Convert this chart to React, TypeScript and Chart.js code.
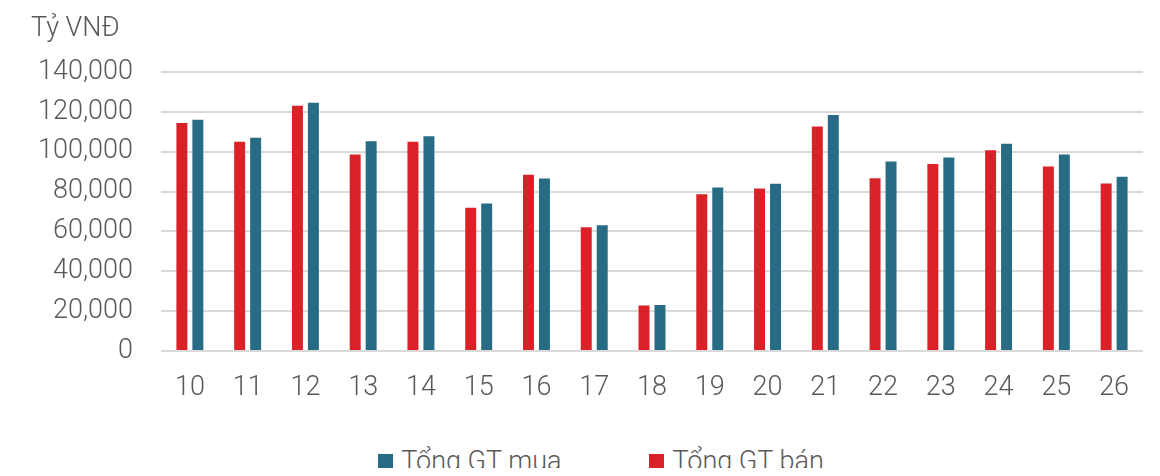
import React, { useEffect, useRef } from "react";
import { Chart, registerables } from "chart.js";

Chart.register(...registerables);

const categories = ["10", "11", "12", "13", "14", "15", "16", "17", "18", "19", "20", "21", "22", "23", "24", "25", "26"];
const sellValues = [114900, 105500, 123600, 99100, 105500, 72400, 88900, 62600, 23300, 79200, 82100, 113100, 87200, 94300, 101200, 93100, 84600];
const buyValues = [116600, 107500, 125100, 105700, 108200, 74500, 87100, 63600, 23600, 82600, 84400, 118900, 95600, 97600, 104500, 99100, 87900];
const sellLabel = "Tổng GT bán";
const buyLabel = "Tổng GT mua";
const unitLabel = "Tỷ VNĐ";
const yMax = 140000;
const yStep = 20000;

const RED = "#DA2128";
const BLUE = "#286B84";
const TEXT = "#595959";
const FONT = "Roboto";
const FS = 27;

const unitPlugin = {
  id: "unitTitle",
  afterDraw(chart: any) {
    const ctx = chart.ctx;
    ctx.save();
    ctx.fillStyle = TEXT;
    ctx.font = `300 ${FS}px ${FONT}`;
    ctx.textAlign = "left";
    ctx.textBaseline = "alphabetic";
    ctx.fillText(unitLabel, 23, 28);
    ctx.restore();
  },
};

export default function App() {
  const ref = useRef<HTMLCanvasElement>(null);
  useEffect(() => {
    if (!ref.current) return;
    const chart = new Chart(ref.current, {
      type: "bar",
      data: {
        labels: categories,
        datasets: [
          {
            label: sellLabel,
            data: sellValues,
            backgroundColor: RED,
            borderColor: "rgba(255,255,255,0.35)",
            borderWidth: 1,
            categoryPercentage: 0.553,
            barPercentage: 0.8125,
          },
          {
            label: buyLabel,
            data: buyValues,
            backgroundColor: BLUE,
            borderColor: "rgba(255,255,255,0.35)",
            borderWidth: 1,
            categoryPercentage: 0.553,
            barPercentage: 0.8125,
          },
        ],
      },
      options: {
        animation: false,
        responsive: true,
        maintainAspectRatio: false,
        layout: { padding: { top: 64, right: 9, left: 0, bottom: 0 } },
        plugins: {
          legend: { display: false },
          tooltip: { enabled: false },
          title: { display: false },
        },
        scales: {
          x: {
            grid: { display: false, drawTicks: false },
            border: { display: false },
            ticks: { color: TEXT, font: { family: FONT, size: FS, weight: "300" }, padding: 21 },
            afterFit(scale: any) {
              scale.height = 69;
            },
          },
          y: {
            min: 0,
            max: yMax,
            grid: { color: "#D9D9D9", lineWidth: 2, drawTicks: false },
            border: { display: false },
            ticks: {
              stepSize: yStep,
              color: TEXT,
              padding: 28,
              font: { family: FONT, size: FS, weight: "300" },
              callback: (v: any) => Number(v).toLocaleString("en-US"),
            },
            afterFit(scale: any) {
              scale.width = 153;
            },
          },
        },
      },
      plugins: [unitPlugin],
    });
    return () => chart.destroy();
  }, []);

  const legendItem = (color: string, text: string) => (
    <div style={{ display: "flex", alignItems: "center" }}>
      <div style={{ width: 15, height: 15, background: color, marginRight: 8 }} />
      <span style={{ lineHeight: "30px" }}>{text}</span>
    </div>
  );

  return (
    <div style={{ width: 1144, height: 460, position: "relative" }}>
      <div style={{ width: 1144, height: 412, position: "relative" }}>
        <canvas ref={ref} />
      </div>
      <div
        style={{
          position: "absolute",
          top: 438,
          left: 0,
          width: 1144,
          height: 30,
          display: "flex",
          justifyContent: "center",
          alignItems: "center",
          gap: 88,
          fontFamily: FONT,
          fontWeight: 300,
          fontSize: FS,
          color: TEXT,
          paddingLeft: 42,
          boxSizing: "border-box",
        }}
      >
        {legendItem(BLUE, buyLabel)}
        {legendItem(RED, sellLabel)}
      </div>
    </div>
  );
}
